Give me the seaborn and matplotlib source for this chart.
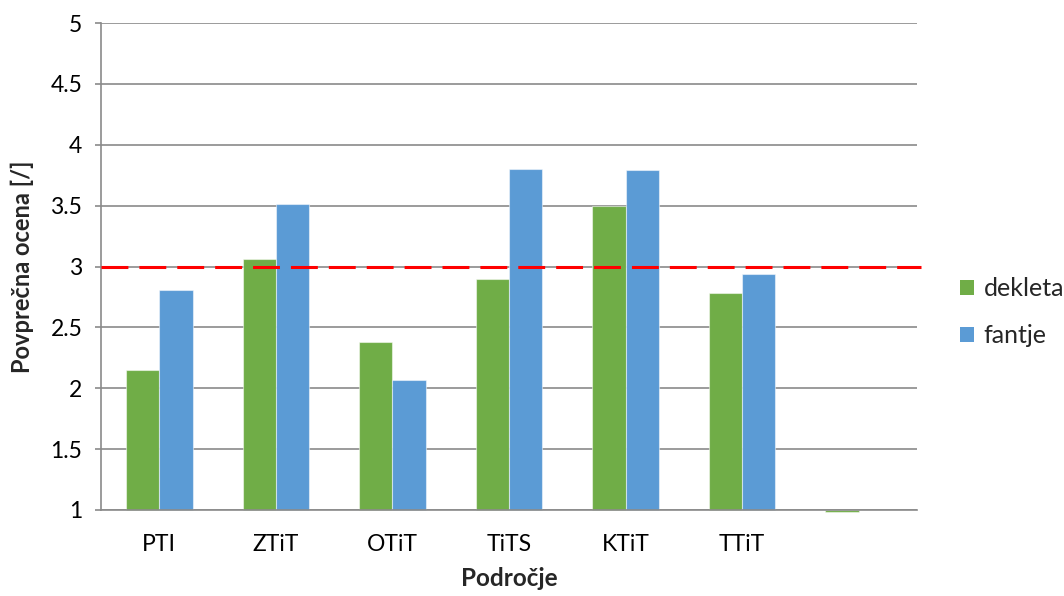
import numpy as np
import pandas as pd
import matplotlib
matplotlib.use("Agg")
import matplotlib.pyplot as plt
from matplotlib.patches import Patch
from matplotlib.ticker import FixedLocator, NullFormatter
import seaborn as sns

# Average scores per area, split by group
categories = ["PTI", "ZTiT", "OTiT", "TiTS", "KTiT", "TTiT", " "]
dekleta = [2.15, 3.06, 2.38, 2.90, 3.50, 2.78, 0.985]
fantje = [2.81, 3.51, 2.07, 3.80, 3.79, 2.94, np.nan]
groups = ["dekleta", "fantje"]
reference_level = 3.0
y_ticks = [1, 1.5, 2, 2.5, 3, 3.5, 4, 4.5, 5]
y_tick_labels = ["1", "1.5", "2", "2.5", "3", "3.5", "4", "4.5", "5"]

colors = {"dekleta": "#70AD47", "fantje": "#5B9BD5"}
grid_gray = "#8a8a8a"
font_size = 16.5

df = pd.DataFrame({
    "Področje": categories * 2,
    "skupina": [groups[0]] * len(categories) + [groups[1]] * len(categories),
    "ocena": dekleta + fantje,
})

sns.set_style("white")
plt.rcParams["font.family"] = ["Lato", "DejaVu Sans"]
plt.rcParams["font.size"] = font_size

fig = plt.figure(figsize=(10.64, 5.96), dpi=100)
ax = fig.add_axes([101 / 1064, 1 - 510 / 596, 816 / 1064, 487 / 596])

sns.barplot(
    data=df, x="Področje", y="ocena", hue="skupina",
    order=categories, hue_order=groups, palette=colors, saturation=1,
    width=0.57, errorbar=None, legend=False, ax=ax,
    edgecolor=(1, 1, 1, 0.5), linewidth=0.8, zorder=2,
)

# Bars start at the axis baseline of 1 (values below it hang under the axis)
for p in ax.patches:
    h = p.get_height()
    if np.isnan(h):
        continue
    p.set_y(1)
    p.set_height(h - 1)
    p.set_clip_on(False)

ax.set_ylim(1, 5)
ax.set_xlim(-0.5, len(categories) - 0.5)
ax.set_yticks(y_ticks)
ax.set_yticklabels(y_tick_labels)

# Category ticks sit on the boundaries between groups
ax.xaxis.set_minor_locator(FixedLocator(np.arange(-0.5, len(categories), 1.0)))
ax.xaxis.set_minor_formatter(NullFormatter())
ax.tick_params(axis="x", which="major", length=0, pad=17, labelsize=font_size, colors="black")
ax.tick_params(axis="x", which="minor", length=5, width=1.2, color=grid_gray, direction="out")
ax.tick_params(axis="y", length=4.5, width=1.2, color=grid_gray, pad=9, labelsize=font_size,
               labelcolor="black", direction="out", left=True)

ax.yaxis.grid(True, color=grid_gray, linewidth=1.2)
ax.xaxis.grid(False)
ax.set_axisbelow(True)
for side in ["top", "right"]:
    ax.spines[side].set_visible(False)
for side in ["left", "bottom"]:
    ax.spines[side].set_color(grid_gray)
    ax.spines[side].set_linewidth(1.2)

# Reference level
ax.axhline(reference_level, xmin=0, xmax=(921 - 101) / 816, color="#FF0000",
           linewidth=2.2, linestyle=(0, (8.8, 3.6)), clip_on=False, zorder=5)

ax.set_xlabel("Področje", fontsize=17.5, fontweight="bold", va="center")
ax.xaxis.set_label_coords(0.5, (17 - 86) / 487)
ax.set_ylabel("Povprečna ocena [/]", fontsize=17, fontweight="bold", va="center")
ax.yaxis.set_label_coords((22 - 101) / 816, 0.5)

handles = [Patch(facecolor=colors[g], edgecolor="none") for g in groups]
fig.legend(handles, groups, loc="center left", bbox_to_anchor=(960 / 1064, 1 - 312 / 596),
           frameon=False, borderpad=0, borderaxespad=0, handlelength=0.55,
           handleheight=0.55, handletextpad=0.4, labelspacing=0.95, fontsize=18)

fig.savefig("out.png", dpi=100)
